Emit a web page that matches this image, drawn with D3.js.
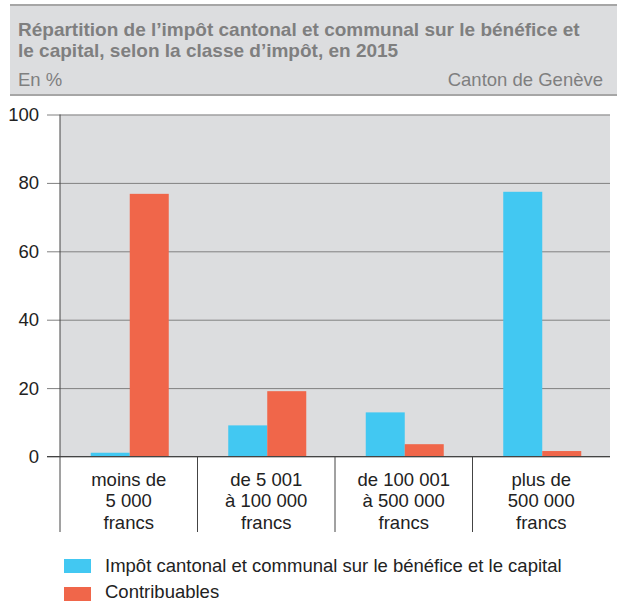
<!DOCTYPE html>
<html>
<head>
<meta charset="utf-8">
<script src="https://cdn.jsdelivr.net/npm/d3@7"></script>
<style>
  body { margin: 0; background: #fff; }
  text { font-family: "Liberation Sans", Arial, sans-serif; }
</style>
</head>
<body>
<svg id="chart" width="617" height="601"></svg>
<script>
// data
let categories = [["moins de", "5 000", "francs"], ["de 5 001", "à 100 000", "francs"], ["de 100 001", "à 500 000", "francs"], ["plus de", "500 000", "francs"]]
let impot = [1.1, 9.1, 12.9, 77.4]
let contribuables = [76.8, 19.1, 3.6, 1.6]
let seriesNames = ["Impôt cantonal et communal sur le bénéfice et le capital", "Contribuables"]
let yTicks = [0, 20, 40, 60, 80, 100]

let blue = "#42c8f2";
let orange = "#f0664a";

let svg = d3.select("#chart");

// header
svg.append("rect").attr("x", 10).attr("y", 5).attr("width", 607).attr("height", 90).attr("fill", "#dcdddf");
svg.append("line").attr("x1", 10).attr("x2", 617).attr("y1", 5).attr("y2", 5).attr("stroke", "#a6a6a6").attr("stroke-width", 2);
svg.append("line").attr("x1", 10).attr("x2", 617).attr("y1", 95).attr("y2", 95).attr("stroke", "#a6a6a6").attr("stroke-width", 2);

let title = ["Répartition de l’impôt cantonal et communal sur le bénéfice et", "le capital, selon la classe d’impôt, en 2015"];
title.forEach((t, i) => {
    svg.append("text").attr("x", 18).attr("y", 36 + i * 20.5)
        .attr("font-size", 19).attr("font-weight", "bold").attr("fill", "#7f7f7f").text(t);
});
svg.append("text").attr("x", 18).attr("y", 86).attr("font-size", 18.5).attr("fill", "#7f7f7f").text("En %");
svg.append("text").attr("x", 603).attr("y", 86).attr("font-size", 18.5).attr("fill", "#7f7f7f")
    .attr("text-anchor", "end").text("Canton de Genève");

// plot
let pLeft = 60, pRight = 610, pTop = 114.5, pBottom = 456.5;

let x = d3.scaleBand().domain(d3.range(categories.length)).range([pLeft, pRight]);
let y = d3.scaleLinear().domain([0, 100]).range([pBottom, pTop]);

svg.append("rect").attr("x", pLeft).attr("y", pTop).attr("width", pRight - pLeft).attr("height", pBottom - pTop).attr("fill", "#dcdddf");

// gridlines + ticks
let yAxis = d3.axisLeft(y).tickValues(yTicks).tickSize(13).tickPadding(8);
let ga = svg.append("g").attr("transform", "translate(" + pLeft + ",0)").call(yAxis);
ga.select(".domain").remove();
ga.selectAll(".tick line").attr("stroke", "#808080").attr("x2", pRight - pLeft).attr("x1", -13);
ga.selectAll(".tick text").attr("font-size", 18.5).attr("fill", "#222").attr("font-family", "Liberation Sans, Arial, sans-serif");

// bars
let inner = d3.scaleBand().domain([0, 1]).range([0, 78]);
let groups = svg.append("g").selectAll("g").data(categories).join("g")
    .attr("transform", (d, i) => "translate(" + (x(i) + x.bandwidth() / 2 - 38) + ",0)");

groups.append("rect").attr("x", inner(0)).attr("width", inner.bandwidth())
    .attr("y", (d, i) => y(impot[i])).attr("height", (d, i) => pBottom - y(impot[i])).attr("fill", blue);
groups.append("rect").attr("x", inner(1)).attr("width", inner.bandwidth())
    .attr("y", (d, i) => y(contribuables[i])).attr("height", (d, i) => pBottom - y(contribuables[i])).attr("fill", orange);

// axes lines
svg.append("line").attr("x1", pLeft).attr("x2", pLeft).attr("y1", pTop).attr("y2", 532).attr("stroke", "#444").attr("stroke-width", 1);
svg.append("line").attr("x1", pLeft - 13).attr("x2", pRight).attr("y1", pBottom).attr("y2", pBottom).attr("stroke", "#444").attr("stroke-width", 1);
for (let i = 1; i < categories.length; i++) {
    svg.append("line").attr("x1", x(i)).attr("x2", x(i)).attr("y1", pBottom).attr("y2", 532).attr("stroke", "#444");
}

// category labels
categories.forEach((lines, i) => {
    lines.forEach((l, j) => {
        svg.append("text").attr("x", x(i) + x.bandwidth() / 2).attr("y", 485.5 + j * 21.5)
            .attr("text-anchor", "middle").attr("font-size", 18.5).attr("fill", "#222").text(l);
    });
});

// legend
let colors = [blue, orange];
seriesNames.forEach((n, i) => {
    svg.append("rect").attr("x", 64).attr("y", 559 + i * 28).attr("width", 27).attr("height", 14).attr("fill", colors[i]);
    svg.append("text").attr("x", 105).attr("y", 572 + i * 25.5).attr("font-size", 18.5).attr("fill", "#222").text(n);
});
</script>
</body>
</html>
